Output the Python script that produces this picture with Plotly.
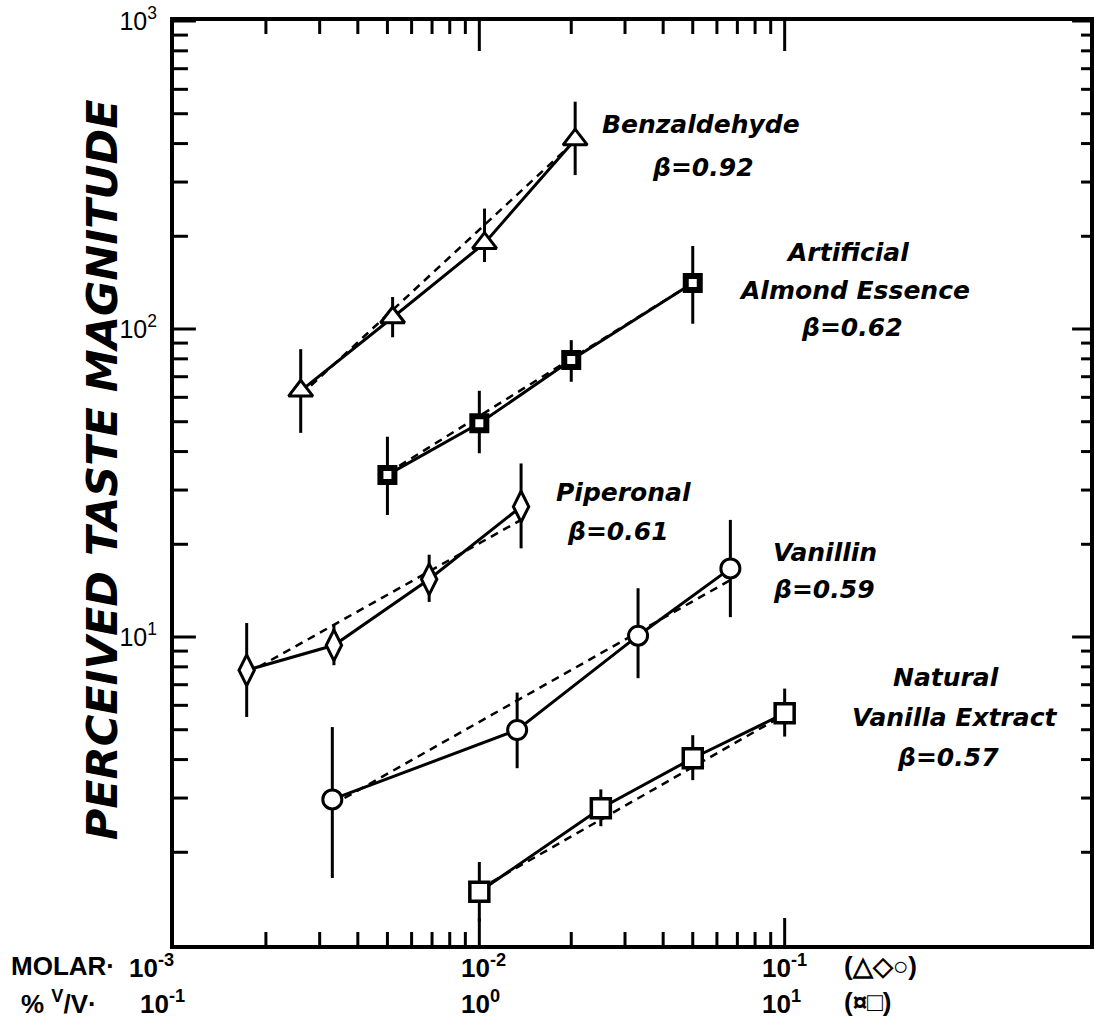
import plotly.graph_objects as go

# ---------------- data ----------------
# x in MOLAR for the triangle / diamond / circle series
benz_x = [2.6e-3, 5.2e-3, 1.04e-2, 2.06e-2]
benz_y = [63, 109, 190, 412]
benz_hi = [86, 127, 246, 547]
benz_lo = [46, 94, 165, 316]
benz_fit_x = [2.6e-3, 2.06e-2]
benz_fit_y = [61, 408]

pip_x = [1.73e-3, 3.34e-3, 6.85e-3, 1.37e-2]
pip_y = [7.8, 9.4, 15.4, 26.5]
pip_hi = [11.1, 11.0, 18.5, 36.6]
pip_lo = [5.5, 8.1, 13.0, 19.4]
pip_fit_x = [1.73e-3, 1.37e-2]
pip_fit_y = [7.6, 24.0]

van_x = [3.3e-3, 1.33e-2, 3.31e-2, 6.64e-2]
van_y = [2.97, 4.99, 10.1, 16.7]
van_hi = [5.1, 6.6, 14.4, 24.0]
van_lo = [1.65, 3.75, 7.35, 11.6]
van_fit_x = [3.3e-3, 6.64e-2]
van_fit_y = [2.85, 15.3]

# x in % v/v for almond essence and natural vanilla extract
almond_pct = [0.5, 1.0, 2.0, 5.0]
almond_y = [33.6, 49.4, 79.3, 141]
almond_hi = [44.7, 63, 92, 186]
almond_lo = [24.9, 39.5, 67.4, 104]
almond_fit_pct = [0.5, 5.0]
almond_fit_y = [34, 141]

nat_pct = [1.0, 2.5, 5.0, 10.0]
nat_y = [1.49, 2.78, 4.04, 5.65]
nat_hi = [1.86, 3.2, 4.8, 6.8]
nat_lo = [1.19, 2.43, 3.43, 4.75]
nat_fit_pct = [1.0, 10.0]
nat_fit_y = [1.52, 5.6]

# the two scales share the axis: 10^-1 % v/v sits at 10^-3 M
PCT_PER_MOLAR_UNIT = 100.0

x_major = [1e-2, 1e-1]
x_minor = [m * 1e-3 for m in range(2, 10)] + [m * 1e-2 for m in range(2, 10)]
y_major = [10, 100, 1000]
y_major_text = ["10<sup>1</sup>", "10<sup>2</sup>", "10<sup>3</sup>"]
y_minor = [m * d for d in (1, 10, 100) for m in range(2, 10)]

labels = [
    ("Benzaldehyde", 703, 125), ("\u03b2=0.92", 705, 167),
    ("Artificial", 850, 252), ("Almond Essence", 857, 290), ("\u03b2=0.62", 855, 327),
    ("Piperonal", 625, 492), ("\u03b2=0.61", 620, 531),
    ("Vanillin", 828, 553), ("\u03b2=0.59", 827, 589),
    ("Natural", 949, 677), ("Vanilla Extract", 958, 717), ("\u03b2=0.57", 951, 757),
]

bottom_rows = [
    # (text, left px, center y px)
    ("MOLAR\u00b7", 8, 966), ("10<sup>-3</sup>", 127, 966), ("10<sup>-2</sup>", 460, 966),
    ("10<sup>-1</sup>", 763, 966), ("(\u25b3\u25c7\u25cb)", 845, 966),
    ("% <sup>V</sup>/V\u00b7", 18, 1002), ("10<sup>-1</sup>", 138, 1002), ("10<sup>0</sup>", 460, 1002),
    ("10<sup>1</sup>", 763, 1002), ("(\u00a4\u25a1)", 845, 1002),
]

# ---------------- figure ----------------
W, H = 1094, 1029
L, T, R, B = 174, 21, 0, 84
PW, PH = W - L - R, H - T - B


def px(x):
    return (x - L) / PW


def py(y):
    return (H - B - y) / PH


fig = go.Figure()


def add_series(x, y, hi, lo, fx, fy, symbol, size, lw, mline=3):
    # fitted power function (dashed)
    fig.add_trace(go.Scatter(
        x=fx, y=fy, mode="lines",
        line=dict(color="black", width=2.5, dash="8px,6px"),
        hoverinfo="skip", showlegend=False))
    fig.add_trace(go.Scatter(
        x=x, y=y, mode="lines+markers",
        line=dict(color="black", width=lw),
        marker=dict(symbol=symbol, size=size, color="white",
                    line=dict(color="black", width=mline)),
        error_y=dict(type="data", symmetric=False,
                     array=[h - v for h, v in zip(hi, y)],
                     arrayminus=[v - l for v, l in zip(y, lo)],
                     width=0, thickness=3, color="black"),
        showlegend=False))


add_series(benz_x, benz_y, benz_hi, benz_lo, benz_fit_x, benz_fit_y, "triangle-up", 21, 3)
add_series([p / PCT_PER_MOLAR_UNIT for p in almond_pct], almond_y, almond_hi, almond_lo,
           [p / PCT_PER_MOLAR_UNIT for p in almond_fit_pct], almond_fit_y, "square", 14, 3, mline=6)
add_series(pip_x, pip_y, pip_hi, pip_lo, pip_fit_x, pip_fit_y, "diamond-tall", 22, 3)
add_series(van_x, van_y, van_hi, van_lo, van_fit_x, van_fit_y, "circle", 19, 3)
add_series([p / PCT_PER_MOLAR_UNIT for p in nat_pct], nat_y, nat_hi, nat_lo,
           [p / PCT_PER_MOLAR_UNIT for p in nat_fit_pct], nat_fit_y, "square", 19, 3, mline=3.5)

ann = []
for text, cx, cy in labels:
    ann.append(dict(text="<b><i>%s</i></b>" % text, x=px(cx), y=py(cy),
                    xref="paper", yref="paper", xanchor="center", yanchor="middle",
                    showarrow=False, font=dict(family="DejaVu Sans", size=25, color="black")))
for text, lx, cy in bottom_rows:
    ann.append(dict(text="<b>%s</b>" % text, x=px(lx), y=py(cy),
                    xref="paper", yref="paper", xanchor="left", yanchor="middle",
                    showarrow=False, font=dict(family="Liberation Sans", size=26, color="black")))
ann.append(dict(text="<b><i>PERCEIVED TASTE MAGNITUDE</i></b>", textangle=-90,
                x=px(102), y=py(470), xref="paper", yref="paper",
                xanchor="center", yanchor="middle", showarrow=False,
                font=dict(family="DejaVu Sans", size=43, color="black")))

# inward tick marks on all four sides, placed on the axes' own (log) scales
shapes = []
tick_line = dict(color="black", width=3)
for v, n_bot, n_top in [(v, 27, 30) for v in x_major] + [(v, 13, 13) for v in x_minor]:
    shapes.append(dict(type="line", xref="x", yref="paper", x0=v, x1=v,
                       y0=0, y1=n_bot / PH, line=tick_line, layer="above"))
    shapes.append(dict(type="line", xref="x", yref="paper", x0=v, x1=v,
                       y0=1, y1=1 - n_top / PH, line=tick_line, layer="above"))
for v, n_left, n_right in [(v, 22, 18) for v in y_major] + [(v, 14, 9) for v in y_minor]:
    shapes.append(dict(type="line", xref="paper", yref="y", y0=v, y1=v,
                       x0=0, x1=n_left / PW, line=tick_line, layer="above"))
    shapes.append(dict(type="line", xref="paper", yref="y", y0=v, y1=v,
                       x0=1, x1=1 - n_right / PW, line=tick_line, layer="above"))

fig.update_layout(
    width=W, height=H,
    margin=dict(l=L, r=R, t=T, b=B, pad=0),
    paper_bgcolor="white", plot_bgcolor="white",
    showlegend=False, annotations=ann, shapes=shapes,
    xaxis=dict(type="log", range=[-3, 0], showgrid=False, zeroline=False,
               showline=True, linecolor="black", linewidth=4, mirror=True,
               ticks="", showticklabels=False),
    yaxis=dict(type="log", range=[0, 3], showgrid=False, zeroline=False,
               showline=True, linecolor="black", linewidth=4, mirror=True,
               ticks="", tickmode="array", tickvals=y_major, ticktext=y_major_text,
               ticklabelstandoff=8,
               tickfont=dict(family="Liberation Sans", size=25, color="black")),
)

fig.write_html("out.html")
